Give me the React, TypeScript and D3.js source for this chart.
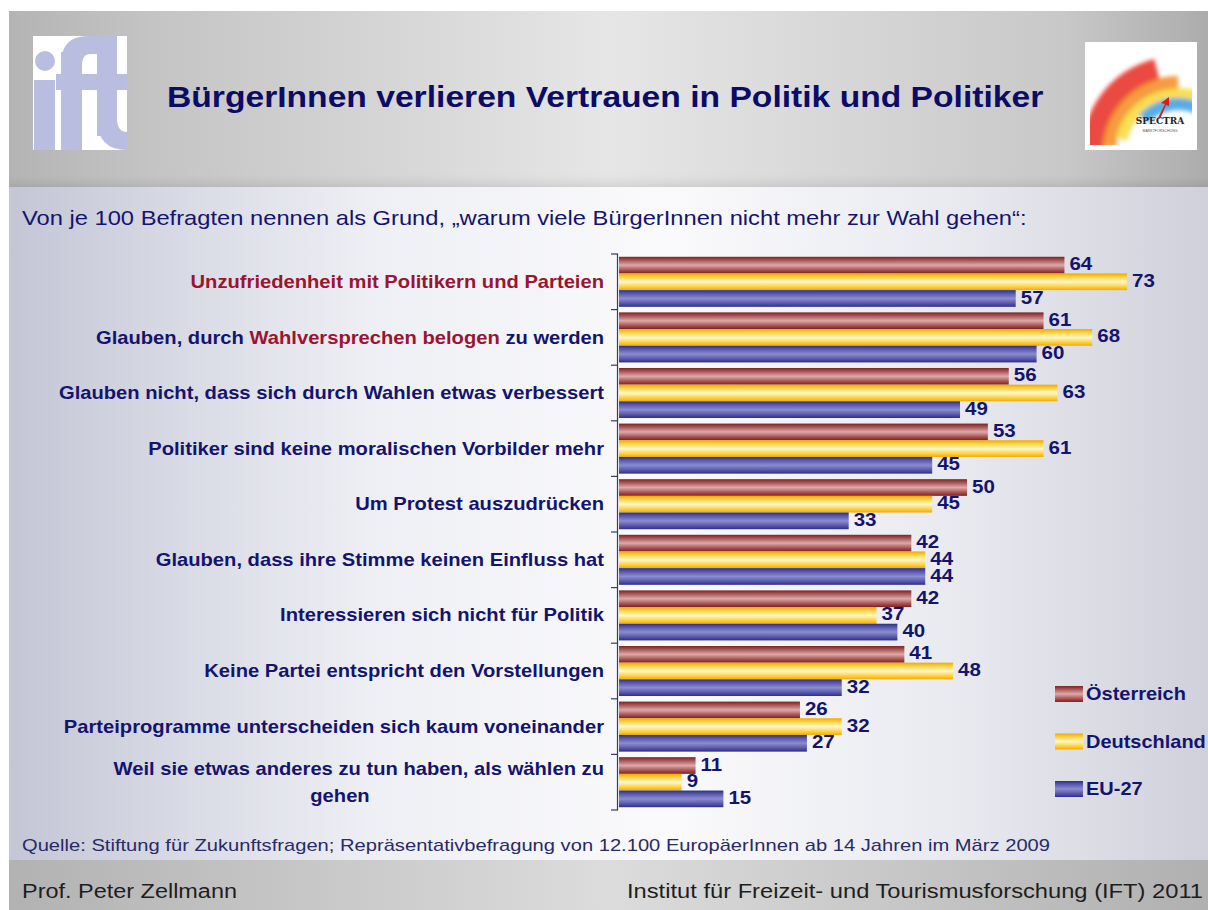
import React from "react";
import * as d3 from "d3";

const categories: string[][] = [
  ["Unzufriedenheit mit Politikern und Parteien"],
  ["Glauben, durch Wahlversprechen belogen zu werden"],
  ["Glauben nicht, dass sich durch Wahlen etwas verbessert"],
  ["Politiker sind keine moralischen Vorbilder mehr"],
  ["Um Protest auszudrücken"],
  ["Glauben, dass ihre Stimme keinen Einfluss hat"],
  ["Interessieren sich nicht für Politik"],
  ["Keine Partei entspricht den Vorstellungen"],
  ["Parteiprogramme unterscheiden sich kaum voneinander"],
  ["Weil sie etwas anderes zu tun haben, als wählen zu", "gehen"],
];
const oesterreich = [64, 61, 56, 53, 50, 42, 42, 41, 26, 11];
const deutschland = [73, 68, 63, 61, 45, 44, 37, 48, 32, 9];
const eu27 = [57, 60, 49, 45, 33, 44, 40, 32, 27, 15];
const seriesNames = ["Österreich", "Deutschland", "EU-27"];

const W = 1208;
const H = 910;
const NAVY = "#14146e";
const RED = "#9b1430";
const FONT = "'Liberation Sans', Arial, sans-serif";
const SX = 1.14;

function Stretch({ x, y, sx = SX, children }: { x: number; y: number; sx?: number; children: React.ReactNode }) {
  return <g transform={`translate(${x},${y}) scale(${sx},1)`}>{children}</g>;
}

export default function App() {
  const x = d3.scaleLinear().domain([0, 100]).range([619, 1315]);
  const idx = d3.range(categories.length);
  const y = d3.scaleBand<number>().domain(idx).range([254, 810]).paddingInner(0.1).paddingOuter(0.05);
  const sub = d3.scaleBand<number>().domain([0, 1, 2]).range([0, y.bandwidth()]);
  const series = [oesterreich, deutschland, eu27];
  const grads = ["gMaroon", "gYellow", "gBlue"];
  const step = y.step();
  const bandTop = (i: number) => (y(i) as number) - (step - y.bandwidth()) / 2;

  const arc = d3.arc();
  const cx = 1178;
  const cyL = 152;
  const rainbow = [
    { r0: 74, r1: 96, a0: -1.62, a1: -0.25, c: "#e62a1e" },
    { r0: 62, r1: 76, a0: -1.5, a1: 0.0, c: "#f58a1e" },
    { r0: 52, r1: 64, a0: -1.35, a1: 0.3, c: "#f8d838" },
    { r0: 42, r1: 54, a0: -0.8, a1: 0.6, c: "#3aa0e0" },
  ];

  const renderLabel = (i: number) => {
    const cy = bandTop(i) + step / 2;
    const lines = categories[i];
    if (i === 1) {
      return (
        <Stretch key={i} x={604} y={cy}>
          <text textAnchor="end" dominantBaseline="central" fill={NAVY}>
            <tspan>Glauben, durch </tspan>
            <tspan fill={RED}>Wahlversprechen belogen</tspan>
            <tspan> zu werden</tspan>
          </text>
        </Stretch>
      );
    }
    if (lines.length === 2) {
      return (
        <g key={i}>
          <Stretch x={604} y={cy - 13}>
            <text textAnchor="end" dominantBaseline="central" fill={NAVY}>{lines[0]}</text>
          </Stretch>
          <Stretch x={340} y={cy + 14}>
            <text textAnchor="middle" dominantBaseline="central" fill={NAVY}>{lines[1]}</text>
          </Stretch>
        </g>
      );
    }
    return (
      <Stretch key={i} x={604} y={cy}>
        <text textAnchor="end" dominantBaseline="central" fill={i === 0 ? RED : NAVY}>
          {lines[0]}
        </text>
      </Stretch>
    );
  };

  return (
    <svg width={W} height={H} style={{ position: "absolute", left: 0, top: 0, display: "block" }} fontFamily={FONT}>
      <defs>
        <linearGradient id="hdr" x1="0" y1="0" x2="1" y2="0">
          <stop offset="0" stopColor="#b4b4b4" />
          <stop offset="0.12" stopColor="#c4c4c4" />
          <stop offset="0.5" stopColor="#e6e6e6" />
          <stop offset="0.88" stopColor="#c8c8c8" />
          <stop offset="1" stopColor="#acacac" />
        </linearGradient>
        <linearGradient id="hdrV" x1="0" y1="0" x2="0" y2="1">
          <stop offset="0" stopColor="#ffffff" stopOpacity="0" />
          <stop offset="0.9" stopColor="#ffffff" stopOpacity="0" />
          <stop offset="1" stopColor="#000000" stopOpacity="0.08" />
        </linearGradient>
        <linearGradient id="body" x1="0" y1="0" x2="1" y2="0">
          <stop offset="0" stopColor="#c4c6d6" />
          <stop offset="0.3" stopColor="#eeeff4" />
          <stop offset="0.55" stopColor="#fafafc" />
          <stop offset="0.8" stopColor="#e8e9ef" />
          <stop offset="1" stopColor="#cfd0da" />
        </linearGradient>
        <linearGradient id="ftr" x1="0" y1="0" x2="1" y2="0">
          <stop offset="0" stopColor="#b2b2b2" />
          <stop offset="0.5" stopColor="#dcdcdc" />
          <stop offset="1" stopColor="#b0b0b0" />
        </linearGradient>
        <linearGradient id="gMaroon" x1="0" y1="0" x2="0" y2="1">
          <stop offset="0" stopColor="#7a2424" />
          <stop offset="0.2" stopColor="#a85454" />
          <stop offset="0.5" stopColor="#dcaaaa" />
          <stop offset="0.8" stopColor="#a85050" />
          <stop offset="1" stopColor="#7a2222" />
        </linearGradient>
        <linearGradient id="gYellow" x1="0" y1="0" x2="0" y2="1">
          <stop offset="0" stopColor="#f0a800" />
          <stop offset="0.2" stopColor="#fcd040" />
          <stop offset="0.5" stopColor="#fff8c8" />
          <stop offset="0.8" stopColor="#fcd040" />
          <stop offset="1" stopColor="#f0ac00" />
        </linearGradient>
        <linearGradient id="gBlue" x1="0" y1="0" x2="0" y2="1">
          <stop offset="0" stopColor="#2c2c8c" />
          <stop offset="0.2" stopColor="#5858aa" />
          <stop offset="0.5" stopColor="#8c8cd0" />
          <stop offset="0.8" stopColor="#5656a8" />
          <stop offset="1" stopColor="#2c2c8c" />
        </linearGradient>
        <clipPath id="iftClip">
          <rect x={33} y={36} width={94} height={114} />
        </clipPath>
        <clipPath id="specClip">
          <rect x={1090} y={47} width={102} height={98} />
        </clipPath>
        <filter id="soft" x="-10%" y="-10%" width="120%" height="120%">
          <feGaussianBlur stdDeviation="2" />
        </filter>
      </defs>

      <rect x={0} y={0} width={W} height={H} fill="#ffffff" />
      {/* body */}
      <rect x={9} y={186} width={W - 9} height={H - 186} fill="url(#body)" />
      {/* header */}
      <rect x={9} y={11} width={W - 9} height={176} fill="url(#hdr)" />
      <rect x={9} y={11} width={W - 9} height={176} fill="url(#hdrV)" />
      {/* footer */}
      <rect x={9} y={860} width={W - 9} height={50} fill="url(#ftr)" />

      {/* ift logo */}
      <rect x={33} y={36} width={94} height={114} fill="#ffffff" />
      <g clipPath="url(#iftClip)" fill="#b9bde0">
        <circle cx={45} cy={61} r={10} />
        <rect x={34} y={80} width={21} height={72} />
        <rect x={61} y={52} width={21} height={100} />
        <path d="M61,64 Q61,36 88,36 L100,36 L100,54 L90,54 Q82,54 82,66 Z" />
        <rect x={56} y={74} width={71} height={16} />
        <rect x={97} y={36} width={20} height={100} />
        <path d="M97,118 Q97,150 127,150 L127,132 Q117,132 117,118 Z" />
      </g>

      {/* spectra logo */}
      <rect x={1085} y={42} width={112} height={108} fill="#ffffff" />
      <g clipPath="url(#specClip)">
        <g filter="url(#soft)">
          {rainbow.map((b, k) => (
            <path
              key={k}
              d={arc({ innerRadius: b.r0, outerRadius: b.r1, startAngle: b.a0, endAngle: b.a1 }) as string}
              transform={`translate(${cx},${cyL})`}
              fill={b.c}
              opacity={0.85}
            />
          ))}
        </g>
      </g>
      <text x={1160} y={124} textAnchor="middle" fontSize={9} fontWeight="bold" fill="#222" fontFamily="'DejaVu Serif', serif">SPECTRA</text>
      <text x={1160} y={132} textAnchor="middle" fontSize={3.5} fill="#555">MARKTFORSCHUNG</text>
      <path d="M1158,118 L1165,104 L1161,103 L1169,97 L1169,106 L1166,105 L1160,119 Z" fill="#d02020" />

      {/* title */}
      <Stretch x={167} y={97}>
        <text dominantBaseline="central" fontSize={29.5} fontWeight="bold" fill="#0c0c66">
          BürgerInnen verlieren Vertrauen in Politik und Politiker
        </text>
      </Stretch>

      {/* subtitle */}
      <Stretch x={22} y={218}>
        <text dominantBaseline="central" fontSize={20.8} fill={NAVY}>
          Von je 100 Befragten nennen als Grund, „warum viele BürgerInnen nicht mehr zur Wahl gehen“:
        </text>
      </Stretch>

      {/* category labels */}
      <g fontSize={17.7} fontWeight="bold">{idx.map(renderLabel)}</g>

      {/* axis */}
      <line x1={617.5} x2={617.5} y1={254} y2={810} stroke="#3a3a5a" strokeWidth={1.2} />
      {d3.range(categories.length + 1).map((k) => {
        const ty = k < categories.length ? bandTop(k) : bandTop(k - 1) + step;
        return <line key={k} x1={611} x2={618} y1={ty} y2={ty} stroke="#3a3a5a" strokeWidth={1.2} />;
      })}

      {/* bars */}
      {series.map((vals, s) => (
        <g key={s}>
          {vals.map((v, i) => (
            <rect
              key={i}
              x={x(0)}
              y={(y(i) as number) + (sub(s) as number)}
              width={x(v) - x(0)}
              height={sub.bandwidth()}
              fill={`url(#${grads[s]})`}
            />
          ))}
        </g>
      ))}

      {/* value labels */}
      <g fontSize={18} fontWeight="bold" fill={NAVY}>
        {series.map((vals, s) =>
          vals.map((v, i) => (
            <Stretch key={`${s}-${i}`} x={x(v) + 5} y={(y(i) as number) + (sub(s) as number) + sub.bandwidth() / 2 - 1}>
              <text dominantBaseline="central">{v}</text>
            </Stretch>
          ))
        )}
      </g>

      {/* legend */}
      <g>
        {seriesNames.map((n, s) => (
          <g key={n} transform={`translate(1055, ${686 + s * 47.5})`}>
            <rect x={0} y={0} width={28} height={16} fill={`url(#${grads[s]})`} />
            <Stretch x={31} y={8} sx={1.11}>
              <text dominantBaseline="central" fontSize={18} fontWeight="bold" fill={NAVY}>
                {n}
              </text>
            </Stretch>
          </g>
        ))}
      </g>

      {/* source */}
      <text x={22} y={845} dominantBaseline="central" fontSize={17} fill="#2a2a66" textLength={1028} lengthAdjust="spacingAndGlyphs">
        Quelle: Stiftung für Zukunftsfragen; Repräsentativbefragung von 12.100 EuropäerInnen ab 14 Jahren im März 2009
      </text>

      {/* footer */}
      <text x={22} y={891} dominantBaseline="central" fontSize={20} fill="#1e1e1e" textLength={215} lengthAdjust="spacingAndGlyphs">
        Prof. Peter Zellmann
      </text>
      <text x={627} y={891} dominantBaseline="central" fontSize={20} fill="#1e1e1e" textLength={576} lengthAdjust="spacingAndGlyphs">
        Institut für Freizeit- und Tourismusforschung (IFT) 2011
      </text>
    </svg>
  );
}
